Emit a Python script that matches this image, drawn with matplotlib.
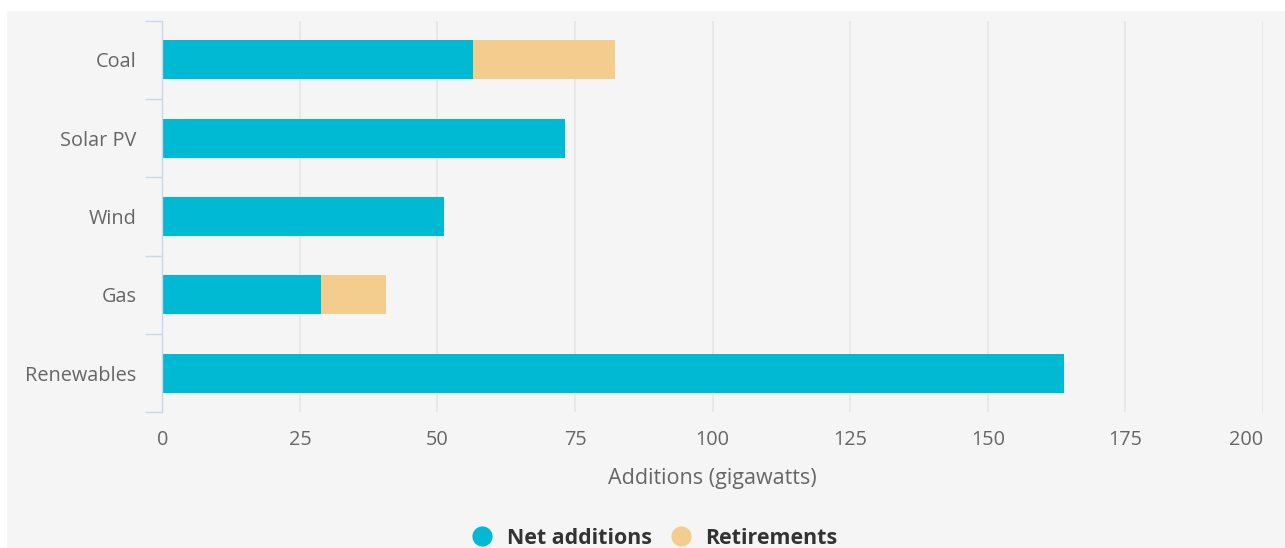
import matplotlib
matplotlib.use("Agg")
import matplotlib.pyplot as plt
from matplotlib.patches import Rectangle
from matplotlib.lines import Line2D
import numpy as np

categories = ["Coal", "Solar PV", "Wind", "Gas", "Renewables"]
net_additions = [56.5, 73.2, 51.2, 28.8, 163.9]
retirements = [25.8, 0, 0, 11.8, 0]
x_ticks = [0, 25, 50, 75, 100, 125, 150, 175, 200]
series_names = ["Net additions", "Retirements"]
colors = ["#00B9D3", "#F2CD8E"]

plt.rcParams["font.family"] = ["Open Sans", "DejaVu Sans"]

W, H = 1285, 548
fig = plt.figure(figsize=(W / 100, H / 100), dpi=100)
fig.patch.set_facecolor("white")
fig.patches.append(Rectangle((7 / W, 0), 1, 1 - 11 / H, transform=fig.transFigure,
                             facecolor="#F5F5F5", edgecolor="none", zorder=-10))

left, right = 162.3 / W, 1263 / W
bottom, top = 1 - 412.3 / H, 1 - 20.7 / H
ax = fig.add_axes([left, bottom, right - left, top - bottom])
ax.set_facecolor("none")

y = np.arange(len(categories))
ax.barh(y, net_additions, height=0.5, color=colors[0], zorder=3)
ax.barh(y, retirements, left=net_additions, height=0.5, color=colors[1], zorder=3)

ax.set_xlim(0, 200)
ax.set_ylim(len(categories) - 0.5, -0.5)
ax.set_xticks(x_ticks)
ax.set_xticklabels([str(t) for t in x_ticks])
ax.xaxis.grid(True, color="#E6E6E6", linewidth=1.2, zorder=0)
ax.tick_params(axis="x", length=0, pad=13, labelsize=14.3, labelcolor="#666666")

# y: tick marks at boundaries, labels at centres
ax.set_yticks(np.arange(-0.5, len(categories), 1.0))
ax.set_yticklabels([])
ax.tick_params(axis="y", which="major", length=12.5, width=1, color="#CCD6EB")
ax.set_yticks(y, minor=True)
ax.set_yticklabels(categories, minor=True)
ax.tick_params(axis="y", which="minor", length=0, pad=18.5, labelsize=14.3, labelcolor="#666666")

for s in ["top", "right", "bottom"]:
    ax.spines[s].set_visible(False)
ax.spines["left"].set_color("#CCD6EB")
ax.spines["left"].set_linewidth(1)
ax.spines["left"].set_zorder(4)

ax.xaxis.get_major_ticks()[-1].label1.set_horizontalalignment("right")
ax.xaxis.get_major_ticks()[-1].label1.set_x(1.0)

ax.set_xlabel("Additions (gigawatts)", fontsize=15.5, color="#666666", labelpad=12.5)

handles = [Line2D([], [], marker="o", linestyle="none", markersize=14.5,
                  markerfacecolor=c, markeredgecolor="none") for c in colors]
leg = fig.legend(handles, series_names, loc="center", bbox_to_anchor=(649 / W, 1 - 538 / H),
                 ncol=2, frameon=False, handletextpad=0.15, columnspacing=0.35,
                 prop={"weight": "bold", "size": 15.4})
for t in leg.get_texts():
    t.set_color("#333333")

fig.savefig("out.png", dpi=100)
